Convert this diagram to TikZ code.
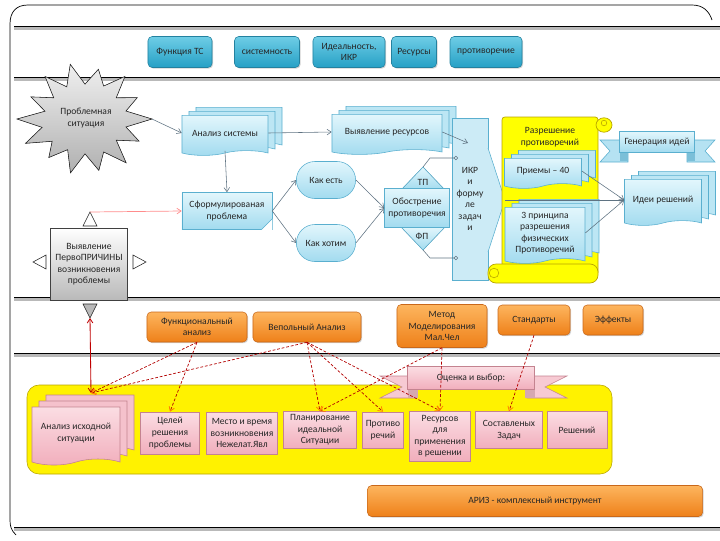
\documentclass[tikz,border=0pt]{standalone}
\usepackage{fontspec}
\setmainfont{Carlito}
\usetikzlibrary{positioning,calc,shapes.symbols,shapes.misc,shadows,arrows.meta}

\definecolor{tealtop}{HTML}{6ECDE6}
\definecolor{tealbot}{HTML}{26A0C5}
\definecolor{tealedge}{HTML}{23819F}
\definecolor{orgtop}{HTML}{FDB55E}
\definecolor{orgbot}{HTML}{EE8019}
\definecolor{orgedge}{HTML}{C9681A}
\definecolor{doctop}{HTML}{E2F6FC}
\definecolor{docbot}{HTML}{A2DBEF}
\definecolor{docedge}{HTML}{5AAFCF}
\definecolor{pinktop}{HTML}{FBDDE3}
\definecolor{pinkbot}{HTML}{F1AEBC}
\definecolor{pinkedge}{HTML}{C48390}
\definecolor{scrollfill}{HTML}{FFFF00}
\definecolor{scrolledge}{HTML}{B8A400}
\definecolor{linkcol}{HTML}{5F7382}

\tikzset{
  every node/.style={font=\fontsize{6.8}{8.2}\selectfont, align=center, inner sep=1pt, text=black!85},
  btn/.style={rounded corners=3pt, draw=tealedge, top color=tealtop, bottom color=tealbot,
    drop shadow={opacity=.35, shadow xshift=.8pt, shadow yshift=-.8pt}, minimum height=0.775cm},
  orgbtn/.style={rounded corners=3pt, draw=orgedge, top color=orgtop, bottom color=orgbot,
    drop shadow={opacity=.35, shadow xshift=.8pt, shadow yshift=-.8pt}},
  bluedoc/.style={shape=tape, tape bend top=none, tape bend bottom=in and out, tape bend height=0.12cm,
    draw=docedge, top color=doctop, bottom color=docbot,
    double copy shadow={shadow xshift=0.175cm, shadow yshift=0.1cm, fill=doctop!40!docbot, draw=docedge}},
  pinkdoc/.style={shape=tape, tape bend top=none, tape bend bottom=in and out, tape bend height=0.15cm,
    draw=pinkedge, top color=pinktop, bottom color=pinkbot,
    double copy shadow={shadow xshift=0.175cm, shadow yshift=0.15cm, fill=pinktop!40!pinkbot, draw=pinkedge}},
  bluebox/.style={draw=docedge, top color=doctop, bottom color=docbot},
  term/.style={rounded rectangle, draw=docedge, top color=doctop, bottom color=docbot,
    minimum width=1.55cm, minimum height=0.925cm},
  pinkbox/.style={draw=pinkedge, top color=pinktop, bottom color=pinkbot},
  graybox/.style={draw=gray!50!black, top color=white, bottom color=gray!55},
  scroll/.style={fill=scrollfill, draw=scrolledge, line width=0.5pt},
  ribbon/.style={fill=pinktop!60!pinkbot, draw=pinkedge},
  link/.style={draw=linkcol, line width=0.4pt, -{Straight Barb[length=3pt,width=4pt]}},
  redlink/.style={draw=red!70!black, line width=0.5pt, dash pattern=on 2pt off 1.3pt,
    -{Straight Barb[length=3pt,width=4pt,color=orange!90!red]}},
}

\begin{document}
\begin{tikzpicture}[x=0.025cm, y=-0.025cm]
\useasboundingbox (0,0) rectangle (720,540);

\draw[line width=0.5pt] (16,535) .. controls (11,530) and (10,526) .. (10,520) -- (10,24)
  .. controls (10,12) and (16,5) .. (28,5) -- (692,5) .. controls (703,5) and (709,11) .. (712,20);
\foreach \y in {26,77,297,353,527} {
  \draw[gray!55, line width=1.5pt] (14,\y+2.5) -- (720,\y+2.5);
  \draw[line width=0.6pt] (14,\y) -- (720,\y);
}

\foreach \name/\txt/\x/\w in {fnbtn/Функция ТС/180/1.6, sysbtn/системность/267/1.625,
    idealbtn/{Идеальность,\\ИКР}/349/1.8, resbtn/Ресурсы/414/1.125, contrbtn/противоречие/486/1.8}
  \node[btn, minimum width=\w cm] (\name) at (\x,52) {\txt};

\begin{scope}[shift={(85,119)}, yscale=0.85]
  \filldraw[draw=gray!30!black, top color=gray!12, bottom color=gray!62]
    (0:67) -- (12.9:42) -- (25.7:60) -- (38.6:40) -- (51.4:66) -- (64.3:43) -- (77.1:62)
    -- (90:41) -- (102.9:65) -- (115.7:40) -- (128.6:58) -- (141.4:42) -- (154.3:66)
    -- (167.1:44) -- (180:68) -- (192.9:41) -- (205.7:60) -- (218.6:40) -- (231.4:64)
    -- (244.3:42) -- (257.1:66) -- (270:41) -- (282.9:60) -- (295.7:43) -- (308.6:64)
    -- (321.4:40) -- (334.3:58) -- (347.1:42) -- cycle;
\end{scope}
\node (probl) at (86,118) {Проблемная\\ситуация};
\coordinate (problr) at (152,119);

\node[bluedoc, minimum width=2.15cm, minimum height=1cm] (anal) at (225,133) {Анализ системы};
\node[bluedoc, minimum width=2.75cm, minimum height=1cm] (vyyav) at (387,132) {Выявление ресурсов};
\node[bluebox, minimum width=2.25cm, minimum height=0.925cm] (sform) at (227,211) {Сформулированая\\проблема};
\fill[white] ($(sform.south east)+(-11,0)$) -- (sform.south east) -- ($(sform.south east)+(0,-11)$) -- cycle;
\filldraw[fill=docbot, draw=docedge] ($(sform.south east)+(-11,0)$) -- ($(sform.south east)+(0,-11)$)
  -- ($(sform.south east)+(-8,-3)$) -- cycle;
\node[term] (kakest) at (326,180) {Как есть};
\node[term] (kakhot) at (326,243) {Как хотим};

\filldraw[bluebox] (401,190) -- (423,167) -- (445,190) -- cycle;
\filldraw[bluebox] (401,227) -- (423,250) -- (445,227) -- cycle;
\node[bluebox, minimum width=1.625cm, minimum height=0.975cm] (obostr) at (417,208) {Обострение\\противоречия};
\node (tp) at (423,182) {ТП};
\node (fp) at (422,236) {ФП};
\coordinate (tptip) at (423,167);
\coordinate (fptip) at (423,250);
\coordinate (tpend) at (458,158);
\coordinate (fpend) at (458,258);

\node[draw=docedge, fill=docbot!55, minimum width=0.9cm, minimum height=4.05cm] (ikr) at (470,199)
  {ИКР\\и\\форму\\ле\\задач\\и};
\filldraw[draw=docedge, fill=docbot!55] (488,148) -- (505,200) -- (488,252);
\coordinate (ikrtip) at (505,200);
\coordinate (ikrin) at (468,143);

\filldraw[scroll, rounded corners=2pt] (502,117) rectangle (598,275);
\filldraw[scroll] (604,125) ellipse [x radius=0.2cm, y radius=0.18cm];
\draw[scrolledge] (604,123) circle [radius=0.07cm];
\filldraw[scroll, rounded corners=0.2cm] (488,264) rectangle (598,283);
\draw[scrolledge] (494,273) circle [radius=0.12cm];
\node (razr) at (550,137) {Разрешение\\противоречий};
\node[bluedoc, minimum width=1.925cm, minimum height=0.75cm] (priem) at (543,171) {Приемы – 40};
\node[bluedoc, minimum width=2cm, minimum height=1.4cm] (princ) at (545,233)
  {3 принципа\\разрешения\\физических\\Противоречий};

\filldraw[fill=docbot!80, draw=docedge] (600,140) -- (628,140) -- (628,162) -- (600,162) -- (610,151) -- cycle;
\filldraw[fill=docbot!80, draw=docedge] (687,140) -- (715,140) -- (705,151) -- (715,162) -- (687,162) -- cycle;
\fill[docedge!80] (620,153) rectangle (628,161);
\fill[docedge!80] (687,153) rectangle (695,161);
\node[bluebox, minimum width=1.875cm, minimum height=0.525cm] (genid) at (657,142) {Генерация идей};
\node[bluedoc, minimum width=1.925cm, minimum height=1.15cm] (ideas) at (663,200) {Идеи решений};

\node[graybox, minimum width=1.925cm, minimum height=1.8cm] (pervo) at (89,264)
  {Выявление\\ПервоПРИЧИНЫ\\возникновения\\проблемы};
\filldraw[fill=white, draw=gray!30!black] (83,226) -- (90,212) -- (97,226) -- cycle;
\filldraw[fill=white, draw=gray!30!black] (46,255) -- (33,262) -- (46,269) -- cycle;
\filldraw[fill=white, draw=gray!30!black] (133,255) -- (146,262) -- (133,269) -- cycle;
\filldraw[fill=gray!55, draw=gray!30!black] (83,304) -- (97,304) -- (90,318) -- cycle;
\coordinate (uptri) at (90,212);
\coordinate (downtri) at (90,318);

\draw[link] (problr) -- (anal.west);
\draw[link] (anal.east) -- (vyyav.west);
\draw[link] (anal.south) -- (sform.north);
\draw[link] (sform.east) -- (kakest.west);
\draw[link] (sform.east) -- (kakhot.west);
\draw[link] (kakest.east) -- (obostr.west);
\draw[link] (kakhot.east) -- (obostr.west);
\draw[link] (vyyav.east) -- (ikrin);
\draw[linkcol, line width=0.4pt, -{Circle[open,length=3pt]}] (tptip) -- (430,158) -- (tpend);
\draw[linkcol, line width=0.4pt, -{Circle[open,length=3pt]}] (fptip) -- (430,258) -- (fpend);
\draw[link] (ikrtip) -- (ideas.west);
\draw[link] (priem.east) -- (ideas.west);
\draw[link] (princ.east) -- (ideas.west);
\draw[draw=red!45, line width=0.5pt, -{Straight Barb[length=3pt,width=4pt]}] (uptri) -- (sform.west);

\foreach \name/\txt/\x/\y/\w/\h in {funcan/{Функциональный\\анализ}/197/327/2.5/0.75,
    vepan/Вепольный Анализ/307/327/2.7/0.75, mmch/{Метод\\Моделирования\\Мал.Чел}/442/326/2.25/1.075,
    stand/Стандарты/534/320/1.8/0.75, eff/Эффекты/613/320/1.5/0.75}
  \node[orgbtn, minimum width=\w cm, minimum height=\h cm] (\name) at (\x,\y) {\txt};

\filldraw[fill=yellow, draw=scrolledge, rounded corners=0.3cm] (27,385) rectangle (612,474);
\filldraw[ribbon] (380,376) -- (416,376) -- (416,398) -- (380,398) -- (402,387) -- cycle;
\filldraw[ribbon] (527,376) -- (567,376) -- (545,387) -- (567,398) -- (527,398) -- cycle;
\fill[pinkedge!70] (408,390) rectangle (418,398);
\fill[pinkedge!70] (525,390) rectangle (535,398);
\node[pinkbox, minimum width=3.175cm, minimum height=0.575cm] (ocenka) at (471,378) {Оценка и выбор:};

\node[pinkdoc, minimum width=2.2cm, minimum height=1.45cm] (anisx) at (76,433) {Анализ исходной\\ситуации};
\coordinate (anisxtop) at (91,393);
\foreach \name/\txt/\x/\y/\w/\h in {goals/{Целей\\решения\\проблемы}/170/433/1.475/1.05,
    place/{Место и время\\возникновения\\Нежелат.Явл}/242/433/1.775/1.05,
    plan/{Планирование\\идеальной\\Ситуации}/320/430/1.825/0.925,
    contra/{Противо\\речий}/383/430/1.025/0.9,
    resrc/{Ресурсов\\для\\применения\\в решении}/440/436/1.525/1.25,
    tasks/{Составленых\\Задач}/509/430/1.675/0.925, sols/Решений/577/430/1.5/0.925}
  \node[pinkbox, minimum width=\w cm, minimum height=\h cm] (\name) at (\x,\y) {\txt};

\node[orgbtn, minimum width=8.375cm, minimum height=0.775cm] (ariz) at (535,501) {АРИЗ - комплексный инструмент};

\draw[red!75!black, line width=0.6pt, {Straight Barb[length=3pt,width=4pt]}-{Straight Barb[length=3pt,width=4pt]}]
  (downtri) -- (anisxtop);
\draw[redlink] (funcan.south) -- (anisxtop);
\draw[redlink] (funcan.south) -- (goals.north);
\draw[redlink] (vepan.south) -- (anisxtop);
\draw[redlink] (vepan.south) -- (plan.north);
\draw[redlink] (vepan.south) -- (contra.north);
\draw[redlink] (vepan.south) -- (resrc.north);
\draw[redlink] (mmch.south) -- (plan.north);
\draw[redlink] (mmch.south) -- (resrc.north);
\draw[redlink] (stand.south) -- (tasks.north);
\end{tikzpicture}
\end{document}
